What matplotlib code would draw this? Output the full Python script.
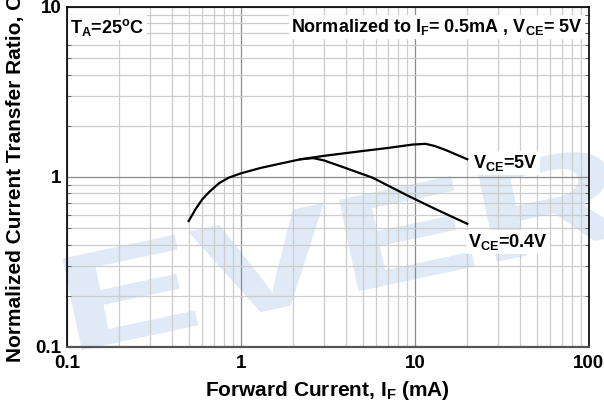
import numpy as np
import matplotlib
matplotlib.use('Agg')
import matplotlib.pyplot as plt
from matplotlib.ticker import NullFormatter
from matplotlib.textpath import TextPath
from matplotlib.patches import PathPatch
from matplotlib.font_manager import FontProperties
from matplotlib.transforms import Affine2D

plt.rcParams['font.family'] = ['Liberation Sans', 'DejaVu Sans']
plt.rcParams['font.weight'] = 'bold'
plt.rcParams['mathtext.fontset'] = 'custom'
plt.rcParams['mathtext.rm'] = 'Liberation Sans:bold'
plt.rcParams['mathtext.it'] = 'Liberation Sans:bold'
plt.rcParams['mathtext.bf'] = 'Liberation Sans:bold'

# data
if_5v = [0.5, 0.55, 0.6, 0.66, 0.75, 0.85, 1.0, 1.3, 1.7, 2.2, 3.0, 4.0, 5.0, 7.0, 9.7, 11.5, 13.0, 15.0, 20.0]
ctr_5v = [0.55, 0.65, 0.74, 0.82, 0.92, 0.99, 1.05, 1.13, 1.2, 1.27, 1.33, 1.38, 1.42, 1.48, 1.55, 1.565, 1.52, 1.44, 1.27]

if_04v = [2.2, 2.6, 3.0, 3.7, 5.7, 9.0, 13.0, 20.0]
ctr_04v = [1.27, 1.29, 1.25, 1.16, 0.99, 0.78, 0.65, 0.53]

x_ticks = [0.1, 1, 10, 100]
x_ticklabels = ['0.1', '1', '10', '100']
y_ticks = [0.1, 1, 10]
y_ticklabels = ['0.1', '1', '10']

fig = plt.figure(figsize=(6.04, 4.03), dpi=100)
ax = fig.add_axes([0.111, 0.139, 0.864, 0.844])
ax.set_facecolor('none')
ax.set_xscale('log')
ax.set_yscale('log')
ax.set_xlim(0.1, 100)
ax.set_ylim(0.1, 10)

# faint stretched watermark behind the grid (pixel units)
wm_path = TextPath((0, 0), 'EVERLIGHT', size=1,
                   prop=FontProperties(family='Liberation Sans', weight='bold'))
wm_trans = Affine2D().scale(212, 136).rotate_deg(12).translate(68, 50)
wm = PathPatch(wm_path, transform=wm_trans, facecolor='#dfeaf6',
               edgecolor='none', zorder=-5)
fig.add_artist(wm)

ax.grid(True, which='minor', color='#cccccc', linewidth=0.9, zorder=1)
ax.grid(True, which='major', color='#8c8c8c', linewidth=0.9, zorder=1)
ax.set_axisbelow(True)

ax.plot(if_5v, ctr_5v, color='black', linewidth=1.6, zorder=3)
ax.plot(if_04v, ctr_04v, color='black', linewidth=1.6, zorder=3)

ax.set_xticks(x_ticks)
ax.set_xticklabels(x_ticklabels)
ax.set_yticks(y_ticks)
ax.set_yticklabels(y_ticklabels)
ax.tick_params(which='both', direction='in', labelsize=13.5)
ax.tick_params(axis='x', which='major', length=0, pad=6)
ax.tick_params(axis='y', which='major', length=0, pad=4)
ax.tick_params(axis='y', which='minor', length=3, color='#555555', right=True)
ax.tick_params(axis='x', which='minor', length=0)
ax.xaxis.set_minor_formatter(NullFormatter())
ax.yaxis.set_minor_formatter(NullFormatter())

for side in ['left', 'right', 'top']:
    ax.spines[side].set_color('black')
    ax.spines[side].set_linewidth(1.2)
ax.spines['bottom'].set_color('#555555')
ax.spines['bottom'].set_linewidth(1.6)

ax.set_xlabel(r'Forward Current, I$_{\mathbf{F}}$ (mA)', fontsize=15,
              fontweight='bold', labelpad=5)
fig.text(0.025, 0.102, 'Normalized Current Transfer Ratio, CTR', rotation=90,
         fontsize=15, fontweight='bold', ha='center', va='bottom')

box = dict(facecolor='white', edgecolor='none', pad=1.5)
ax.text(0.006, 0.9235, r'T$_{\mathbf{A}}$=25$^{\mathbf{o}}$C', transform=ax.transAxes,
        fontsize=13, ha='left', va='baseline', bbox=box, zorder=4)
ax.text(0.9885, 0.926, r'Normalized to I$_{\mathbf{F}}$= 0.5mA , V$_{\mathbf{CE}}$= 5V',
        transform=ax.transAxes, fontsize=13, ha='right', va='baseline', bbox=box, zorder=4)
ax.text(0.778, 0.526, r'V$_{\mathbf{CE}}$=5V', transform=ax.transAxes,
        fontsize=13, ha='left', va='baseline', bbox=box, zorder=4)
ax.text(0.768, 0.294, r'V$_{\mathbf{CE}}$=0.4V', transform=ax.transAxes,
        fontsize=13, ha='left', va='baseline', bbox=box, zorder=4)

fig.savefig('out.png', dpi=100)
